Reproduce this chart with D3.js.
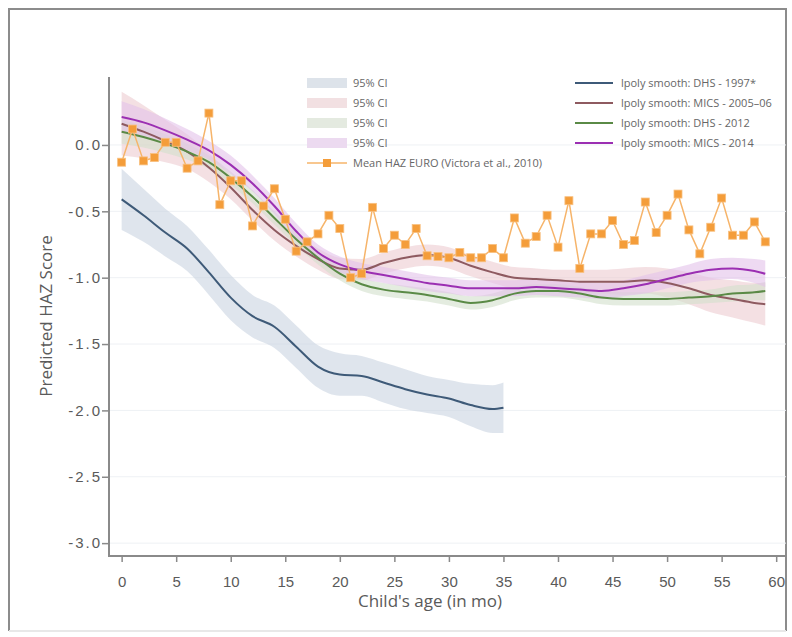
<!DOCTYPE html>
<html>
<head>
<meta charset="utf-8">
<script src="https://cdn.jsdelivr.net/npm/d3@7"></script>
<style>
  body { margin: 0; background: #fff; }
  svg { font-family: "Open Sans", "DejaVu Sans", sans-serif; }
</style>
</head>
<body>
<svg id="chart" width="792" height="637"></svg>
<script>
// smoothed curves (lpoly)
var ageDHS1997 = [0, 2, 4, 6, 8, 10, 12, 14, 16, 18, 20, 22, 24, 26, 28, 30, 32, 34, 35]
var hazDHS1997 = [-0.41, -0.53, -0.66, -0.78, -0.96, -1.15, -1.29, -1.37, -1.52, -1.67, -1.73, -1.74, -1.79, -1.84, -1.88, -1.91, -1.96, -1.99, -1.98]
var ciDHS1997 = [0.23, 0.20, 0.18, 0.17, 0.17, 0.17, 0.16, 0.16, 0.16, 0.16, 0.16, 0.15, 0.15, 0.15, 0.14, 0.14, 0.16, 0.18, 0.19]

var ageLater = [0, 2, 4, 6, 8, 10, 12, 14, 16, 18, 20, 22, 24, 26, 28, 30, 32, 34, 36, 38, 40, 42, 44, 46, 48, 50, 52, 54, 56, 58, 59]
var hazMICS2006 = [0.16, 0.10, 0.03, -0.05, -0.17, -0.32, -0.49, -0.64, -0.76, -0.86, -0.93, -0.94, -0.89, -0.85, -0.83, -0.85, -0.91, -0.96, -1.00, -1.01, -1.02, -1.03, -1.03, -1.03, -1.02, -1.04, -1.08, -1.13, -1.16, -1.19, -1.20]
var ciMICS2006 = [0.24, 0.20, 0.16, 0.13, 0.11, 0.09, 0.08, 0.08, 0.08, 0.08, 0.08, 0.08, 0.08, 0.08, 0.08, 0.08, 0.08, 0.08, 0.08, 0.08, 0.08, 0.09, 0.09, 0.10, 0.10, 0.11, 0.12, 0.13, 0.14, 0.15, 0.16]
var hazDHS2012 = [0.10, 0.06, 0.01, -0.05, -0.13, -0.25, -0.39, -0.55, -0.71, -0.85, -0.97, -1.05, -1.09, -1.11, -1.13, -1.16, -1.19, -1.17, -1.12, -1.10, -1.10, -1.12, -1.15, -1.16, -1.16, -1.16, -1.15, -1.14, -1.12, -1.11, -1.10]
var ciDHS2012 = [0.09, 0.08, 0.07, 0.06, 0.05, 0.05, 0.05, 0.05, 0.05, 0.05, 0.05, 0.05, 0.05, 0.05, 0.05, 0.05, 0.05, 0.05, 0.05, 0.05, 0.05, 0.05, 0.05, 0.05, 0.05, 0.05, 0.05, 0.05, 0.06, 0.06, 0.07]
var hazMICS2014 = [0.21, 0.17, 0.11, 0.04, -0.04, -0.15, -0.29, -0.46, -0.65, -0.81, -0.90, -0.95, -0.98, -1.01, -1.04, -1.06, -1.08, -1.08, -1.08, -1.07, -1.08, -1.09, -1.10, -1.08, -1.05, -1.01, -0.97, -0.94, -0.93, -0.95, -0.97]
var ciMICS2014 = [0.12, 0.10, 0.09, 0.08, 0.07, 0.07, 0.06, 0.06, 0.06, 0.06, 0.06, 0.06, 0.06, 0.06, 0.06, 0.06, 0.06, 0.06, 0.06, 0.06, 0.06, 0.06, 0.06, 0.06, 0.07, 0.07, 0.07, 0.08, 0.08, 0.09, 0.10]

// Mean HAZ EURO (Victora et al., 2010), one value per month 0..59
var euroAge = d3.range(0, 60)
var euroHaz = [-0.13, 0.12, -0.12, -0.095, 0.02, 0.02, -0.175, -0.12, 0.24, -0.45,
  -0.27, -0.27, -0.61, -0.46, -0.33, -0.56, -0.80, -0.73, -0.67, -0.53,
  -0.63, -1.00, -0.97, -0.47, -0.78, -0.68, -0.75, -0.63, -0.835, -0.84,
  -0.85, -0.81, -0.85, -0.85, -0.78, -0.85, -0.55, -0.74, -0.69, -0.53,
  -0.77, -0.42, -0.93, -0.67, -0.67, -0.57, -0.75, -0.72, -0.43, -0.66,
  -0.53, -0.37, -0.64, -0.82, -0.62, -0.40, -0.68, -0.68, -0.58, -0.73]

var xTicks = [0, 5, 10, 15, 20, 25, 30, 35, 40, 45, 50, 55, 60]
var yTicks = [0, -0.5, -1, -1.5, -2, -2.5, -3]

var series = [
  { name: "lpoly smooth: DHS - 1997*", age: ageDHS1997, haz: hazDHS1997, ci: ciDHS1997, line: "#3e5a78", band: "#c9d4e1", swatch: "#dde3ea" },
  { name: "lpoly smooth: MICS - 2005\u201306", age: ageLater, haz: hazMICS2006, ci: ciMICS2006, line: "#8e5a60", band: "#ecccd0", swatch: "#f2e0e2" },
  { name: "lpoly smooth: DHS - 2012", age: ageLater, haz: hazDHS2012, ci: ciDHS2012, line: "#5a8a46", band: "#d2dfcb", swatch: "#e4eae0" },
  { name: "lpoly smooth: MICS - 2014", age: ageLater, haz: hazMICS2014, ci: ciMICS2014, line: "#9b2fb2", band: "#e2c2ea", swatch: "#ecdaf0" }
]

var svg = d3.select("#chart")

// outer frame
svg.append("path")
  .attr("d", "M9,631 L9,9 L786,9 L786,631")
  .attr("fill", "none").attr("stroke", "#8c8c8c").attr("stroke-width", 2)
svg.append("line")
  .attr("x1", 9).attr("x2", 786).attr("y1", 631).attr("y2", 631)
  .attr("stroke", "#e8e8e8").attr("stroke-width", 2)

var xScale = d3.scaleLinear().domain([-1.25, 60.9]).range([108, 786])
var yScale = d3.scaleLinear().domain([-3.097, 0.512]).range([556, 77])

// grid
svg.append("g").selectAll("line").data(yTicks).enter().append("line")
  .attr("x1", 109).attr("x2", 786)
  .attr("y1", d => yScale(d)).attr("y2", d => yScale(d))
  .attr("stroke", "#eef1f4").attr("stroke-width", 1)

// CI bands
series.forEach(function (s) {
  var pts = s.age.map((a, i) => ({ a: a, y: s.haz[i], h: s.ci[i] }))
  var area = d3.area()
    .x(d => xScale(d.a))
    .y0(d => yScale(d.y - d.h))
    .y1(d => yScale(d.y + d.h))
    .curve(d3.curveMonotoneX)
  svg.append("path").datum(pts)
    .attr("d", area)
    .attr("fill", s.band).attr("fill-opacity", 0.6)
})

// smoothed lines
series.forEach(function (s) {
  var pts = s.age.map((a, i) => ({ a: a, y: s.haz[i] }))
  var line = d3.line().x(d => xScale(d.a)).y(d => yScale(d.y)).curve(d3.curveMonotoneX)
  svg.append("path").datum(pts)
    .attr("d", line)
    .attr("fill", "none").attr("stroke", s.line).attr("stroke-width", 2)
})

// EURO reference with square markers
var euro = euroAge.map((a, i) => ({ a: a, y: euroHaz[i] }))
svg.append("path").datum(euro)
  .attr("d", d3.line().x(d => xScale(d.a)).y(d => yScale(d.y)))
  .attr("fill", "none").attr("stroke", "#f6b46a").attr("stroke-width", 1.5)
svg.append("g").selectAll("rect").data(euro).enter().append("rect")
  .attr("x", d => xScale(d.a) - 4).attr("y", d => yScale(d.y) - 4)
  .attr("width", 8).attr("height", 8)
  .attr("fill", "#f49d3a").attr("stroke", "#f8c080").attr("stroke-width", 0.8)

// axes
var xAxis = svg.append("g")
  .attr("transform", "translate(0,556)")
  .call(d3.axisBottom(xScale).tickValues(xTicks).tickSize(6).tickPadding(14).tickSizeOuter(0))
var yAxis = svg.append("g")
  .attr("transform", "translate(109,0)")
  .call(d3.axisLeft(yScale).tickValues(yTicks).tickSize(7).tickPadding(0).tickSizeOuter(0)
    .tickFormat(d => d3.format(".1f")(d).replace("\u2212", "-")))
;[xAxis, yAxis].forEach(function (ax) {
  ax.select(".domain").attr("stroke", "#8a8a8a").attr("stroke-width", 2)
  ax.selectAll(".tick line").attr("stroke", "#8a8a8a").attr("stroke-width", 1.5)
  ax.selectAll(".tick text").attr("fill", "#5a5a5a").style("font-size", "15px")
})
yAxis.selectAll(".tick text").style("letter-spacing", "2px")
yAxis.select(".domain").attr("d", "M0,77V556")
xAxis.select(".domain").attr("d", "M108,0H786")

svg.append("text")
  .attr("x", 430).attr("y", 607)
  .attr("text-anchor", "middle").attr("fill", "#5a5a5a").style("font-size", "17px")
  .text("Child's age (in mo)")
svg.append("text")
  .attr("transform", "translate(52,316) rotate(-90)")
  .attr("text-anchor", "middle").attr("fill", "#5a5a5a").style("font-size", "17px")
  .text("Predicted HAZ Score")

// legend
var legRows = [83, 103, 123, 143]
var legL = svg.append("g")
series.forEach(function (s, i) {
  legL.append("rect").attr("x", 307).attr("y", legRows[i] - 5).attr("width", 40).attr("height", 10)
    .attr("fill", s.swatch)
  legL.append("text").attr("x", 353).attr("y", legRows[i] + 4)
    .attr("fill", "#666").style("font-size", "11px").text("95% CI")
  legL.append("line").attr("x1", 575).attr("x2", 613).attr("y1", legRows[i]).attr("y2", legRows[i])
    .attr("stroke", s.line).attr("stroke-width", 2)
  legL.append("text").attr("x", 621).attr("y", legRows[i] + 4)
    .attr("fill", "#666").style("font-size", "11px").text(s.name)
})
legL.append("line").attr("x1", 307).attr("x2", 347).attr("y1", 163).attr("y2", 163)
  .attr("stroke", "#f6b46a").attr("stroke-width", 1.5)
legL.append("rect").attr("x", 323).attr("y", 159).attr("width", 8).attr("height", 8)
  .attr("fill", "#f49d3a")
legL.append("text").attr("x", 353).attr("y", 167)
  .attr("fill", "#666").style("font-size", "11px").text("Mean HAZ EURO (Victora et al., 2010)")
</script>
</body>
</html>
